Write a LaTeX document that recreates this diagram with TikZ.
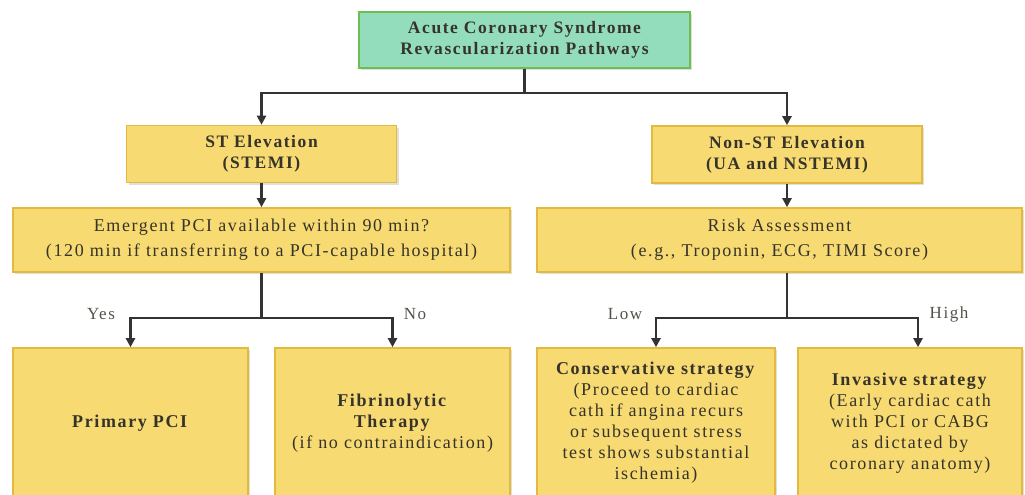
\documentclass[tikz,border=0pt]{standalone}
\usepackage{fontspec}
\setmainfont{Liberation Serif}[LetterSpace=9]
\usetikzlibrary{arrows.meta,shadows,calc}
\definecolor{boxfill}{HTML}{F7DA72}
\definecolor{boxline}{HTML}{E3BB3C}
\definecolor{titlefill}{HTML}{93DDBD}
\definecolor{titleline}{HTML}{6CBF4E}
\definecolor{txt}{HTML}{35332A}
\definecolor{arrowc}{HTML}{333333}
\tikzset{
  base/.style={draw, line width=1.6pt, align=center, inner sep=2pt, text=txt,
    drop shadow={opacity=0.25, shadow xshift=2pt, shadow yshift=-2pt}},
  ybox/.style={base, fill=boxfill, draw=boxline},
  tbox/.style={base, fill=titlefill, draw=titleline},
  arr/.style={draw=arrowc, line width=2.4pt, -{Triangle[length=9pt,width=9pt]}},
  ln/.style={draw=arrowc, line width=2.4pt},
  lbl/.style={text=txt!85, font=\fontsize{17}{18}\selectfont, inner sep=0pt},
  t1/.style={font=\fontsize{18}{21}\selectfont},
  t2/.style={font=\fontsize{18}{25}\selectfont},
  hd/.style={font=\bfseries\fontsize{17.5}{21}\selectfont}
}
\begin{document}
\begin{tikzpicture}[x=1pt,y=-1pt]
\useasboundingbox (0,0) rectangle (1025,495);
\clip (0,0) rectangle (1025,495);
\node[tbox, minimum width=331pt, minimum height=56pt, hd] (title) at (524.5,40) {Acute Coronary Syndrome\\Revascularization Pathways};
\node[ybox, minimum width=270pt, minimum height=57pt, hd] (st) at (261.5,154) {ST Elevation\\(STEMI)};
\node[ybox, minimum width=270pt, minimum height=57pt, hd] (nst) at (787,154.5) {Non-ST Elevation\\(UA and NSTEMI)};
\node[ybox, minimum width=497pt, minimum height=64pt, t2] (q) at (261.5,240) {Emergent PCI available within 90 min?\\(120 min if transferring to a PCI-capable hospital)};
\node[ybox, minimum width=485pt, minimum height=64pt, t2] (risk) at (779.5,240) {Risk Assessment\\(e.g., Troponin, ECG, TIMI Score)};
\node[ybox, minimum width=235pt, minimum height=150pt, t1] (ppci) at (130.5,423) {\textbf{Primary PCI}};
\node[ybox, minimum width=235pt, minimum height=150pt, t1] (fib) at (392.5,423) {\textbf{Fibrinolytic}\\\textbf{Therapy}\\(if no contraindication)};
\node[ybox, minimum width=238pt, minimum height=150pt, t1] (cons) at (656,423) {\textbf{Conservative strategy}\\(Proceed to cardiac\\cath if angina recurs\\or subsequent stress\\test shows substantial\\ischemia)};
\node[ybox, minimum width=224pt, minimum height=150pt, t1] (inv) at (910,423) {\textbf{Invasive strategy}\\(Early cardiac cath\\with PCI or CABG\\as dictated by\\coronary anatomy)};
% connectors
\coordinate (tj) at ($(title.south)+(0,24)$);
\draw[ln] (title.south) -- (tj);
\draw[arr] (tj) -| (st.north);
\draw[arr] (tj) -| (nst.north);
\draw[arr] (st.south) -- (q.north);
\draw[arr] (nst.south) -- (nst.south |- risk.north);
\coordinate (qj) at ($(q.south)+(0,45)$);
\draw[ln] (q.south) -- (qj);
\draw[arr] (qj) -| (ppci.north);
\draw[arr] (qj) -| (fib.north);
\coordinate (rs) at (nst.south |- risk.south);
\coordinate (rj) at ($(rs)+(0,45)$);
\coordinate (invtop) at ($(inv.north)+(8,0)$);
\draw[ln] (rs) -- (rj);
\draw[arr] (rj) -| (cons.north);
\draw[arr] (rj) -| (invtop);
\node[lbl] (yes) at (101,314) {Yes};
\node[lbl] (no) at (415,314) {No};
\node[lbl] (low) at (625,314) {Low};
\node[lbl] (high) at (949,314) {High};
\end{tikzpicture}
\end{document}
